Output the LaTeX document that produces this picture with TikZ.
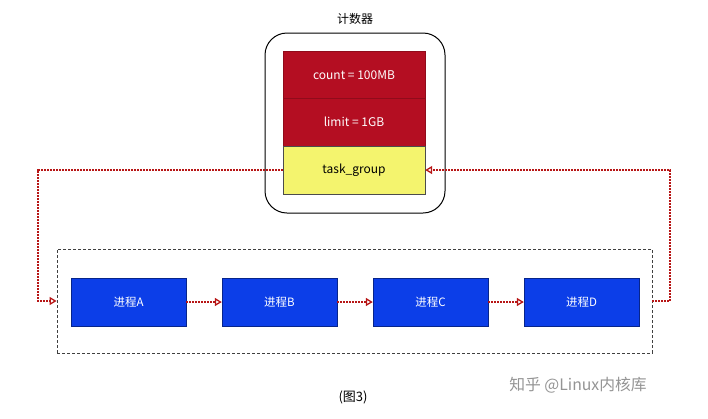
\documentclass[tikz,border=0pt]{standalone}
\usepackage{fontspec}
\setmainfont{Noto Sans CJK SC}
\usetikzlibrary{arrows.meta,calc}
\definecolor{boxred}{RGB}{180,14,34}
\definecolor{boxyellow}{RGB}{244,244,110}
\definecolor{boxblue}{RGB}{12,62,232}
\definecolor{linered}{RGB}{183,22,22}
\tikzset{
  cellfont/.style={font=\fontsize{12}{14}\selectfont},
  redcell/.style={draw=boxred!80!black, fill=boxred, minimum width=142pt, minimum height=48pt, inner sep=0pt, text=white, cellfont},
  yellowcell/.style={draw=black!70, fill=boxyellow, minimum width=142pt, minimum height=48pt, inner sep=0pt, text=black, cellfont},
  proc/.style={draw=boxblue!60!black, fill=boxblue, minimum width=115pt, minimum height=48pt, inner sep=0pt, text=white, font=\fontsize{11.5}{14}\selectfont},
  redline/.style={draw=linered, line width=1.3pt, dash pattern=on 2pt off 1pt, -{Triangle[open, length=7pt, width=8pt, fill=white]}},
}
\begin{document}
\begin{tikzpicture}[x=1pt, y=-1pt]
\useasboundingbox (0,0) rectangle (708,418);
\node[font=\fontsize{12}{14}\selectfont] (title) at (355,19) {计数器};
\node[draw=black, line width=1pt, rounded corners=22pt, minimum width=180pt, minimum height=180pt, inner sep=0pt] (outer) at (355,123) {};
\node[redcell] (count) at (354,75) {count = 100MB};
\node[redcell] (limit) at (354,122) {limit = 1GB};
\node[yellowcell] (tg) at (354,170) {task\_group};
\node[draw=black!75, densely dashed, line width=0.8pt, minimum width=595pt, minimum height=104pt, inner sep=0pt] (grp) at (354.5,301) {};
\node[proc] (pa) at (128.5,302) {进程A};
\node[proc] (pb) at (279.5,302) {进程B};
\node[proc] (pc) at (430.5,302) {进程C};
\node[proc] (pd) at (581.5,302) {进程D};
\coordinate (lx) at (38,0);
\coordinate (rx) at (670,0);
\draw[redline] (tg.west) -| (lx |- grp.west) -- (grp.west);
\draw[redline] (grp.east) -- (rx |- grp.east) |- (tg.east);
\draw[redline] (pa) -- (pb);
\draw[redline] (pb) -- (pc);
\draw[redline] (pc) -- (pd);
\node[font=\fontsize{13}{15}\selectfont] (cap) at (353,397) {(图3)};
\node[font=\fontsize{15.8}{18}\selectfont, text=black!42] (wm) at (578,385) {知乎 @Linux内核库};
\end{tikzpicture}
\end{document}
